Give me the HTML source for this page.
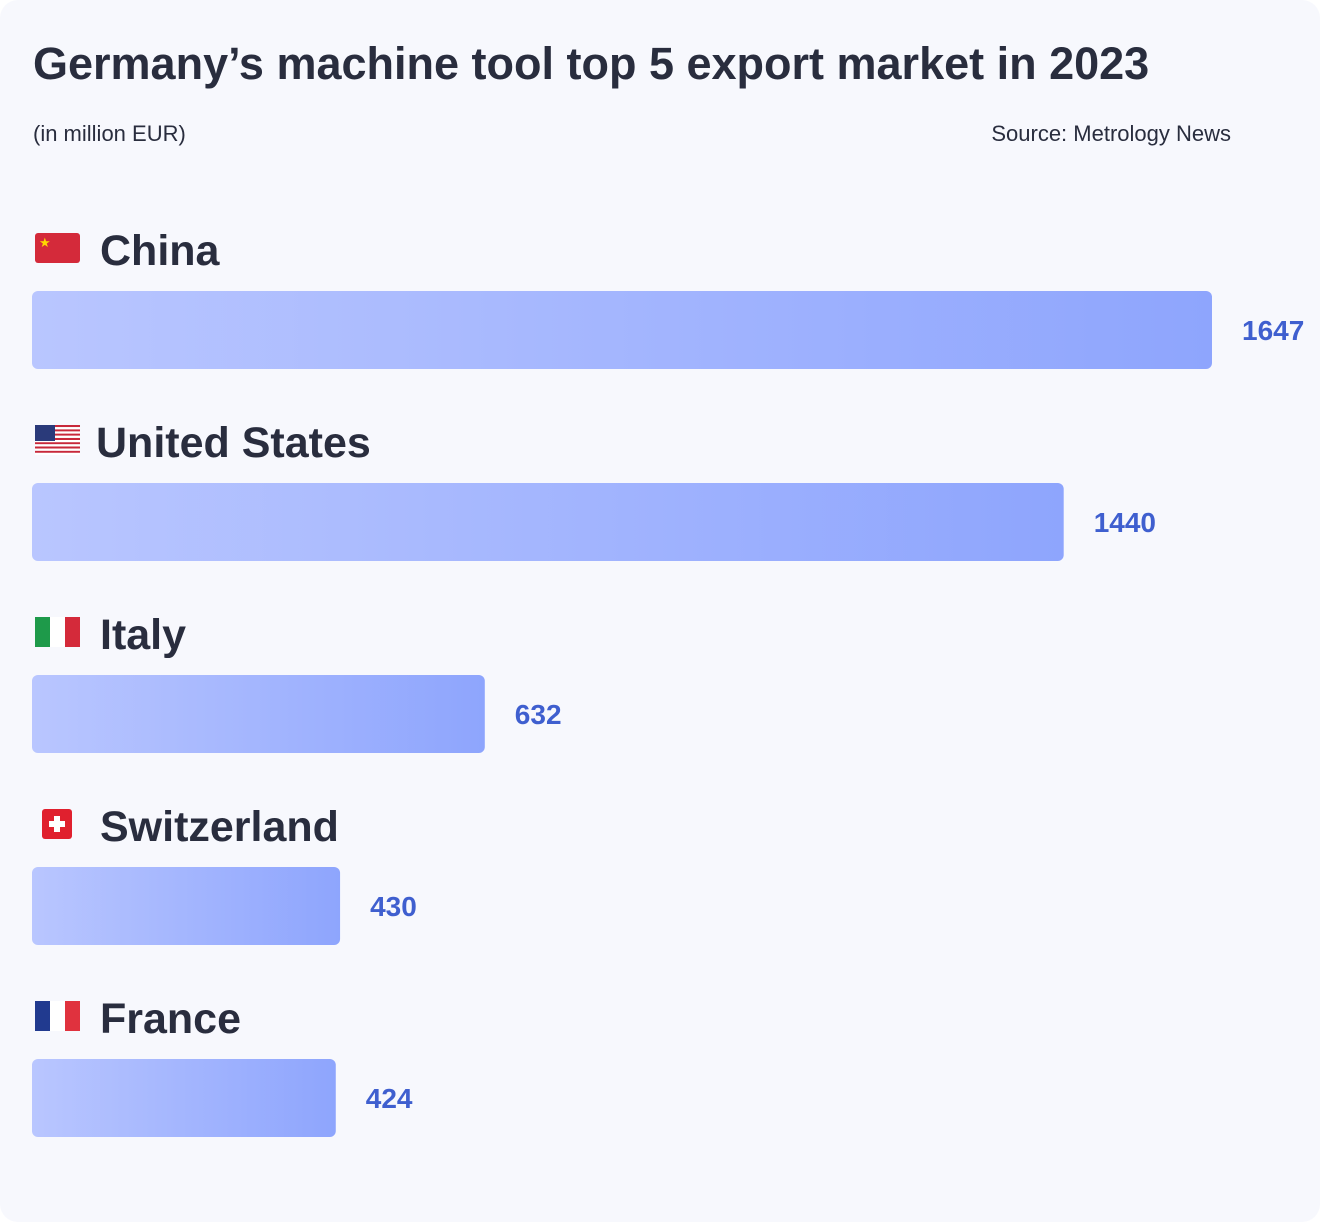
<!DOCTYPE html>
<html><head><meta charset="utf-8"><style>
body{margin:0;background:#fff;}
svg{display:block;font-family:"Liberation Sans",sans-serif;}
</style></head><body>
<svg id="chart" width="1320" height="1222" viewBox="0 0 1320 1222" xmlns="http://www.w3.org/2000/svg">
<defs>
<linearGradient id="bg" x1="0" x2="1" y1="0" y2="0"><stop offset="0" stop-color="#b9c6ff"/><stop offset="1" stop-color="#8ea5fd"/></linearGradient>
</defs>
<rect x="0" y="0" width="1320" height="1222" rx="18" fill="#f7f8fd"/>
<text x="33" y="79" font-size="45" font-weight="bold" fill="#292d3e">Germany’s machine tool top 5 export market in 2023</text>
<text x="33" y="141" font-size="22" fill="#292d3e">(in million EUR)</text>
<text x="1231" y="141" font-size="22" fill="#292d3e" text-anchor="end">Source: Metrology News</text>
<g id="bars"></g>
</svg>
<script>
const categories=["China","United States","Italy","Switzerland","France"];
const values=[1647,1440,632,430,424];
const flagKeys=["cn","us","it","ch","fr"];
const svg=document.getElementById('bars');
const NS="http://www.w3.org/2000/svg";
const x0=32, scale=1180/1647;
function xs(v){return v*scale;}
function mk(t,a){const e=document.createElementNS(NS,t);for(const k in a)e.setAttribute(k,a[k]);return e;}
function flag(k,x,y){
  const g=mk('g',{});
  const w=45,h=30;
  if(k==='cn'){g.appendChild(mk('rect',{x,y,width:w,height:h,rx:3,fill:'#d42a3a'}));g.appendChild(mk('text',{x:x+4,y:y+14,'font-size':13,fill:'#ffd700'})).textContent='★';}
  if(k==='us'){for(let i=0;i<7;i++)g.appendChild(mk('rect',{x,y:y+i*h/7,width:w,height:h/14,fill:'#c8283a'}));for(let i=0;i<7;i++)g.appendChild(mk('rect',{x,y:y+i*h/7+h/14,width:w,height:h/14,fill:'#fff'}));g.appendChild(mk('rect',{x,y,width:20,height:16,fill:'#2a3a7a'}));}
  if(k==='it'){['#1e9a4a','#fff','#d42a3a'].forEach((c,i)=>g.appendChild(mk('rect',{x:x+i*15,y,width:15,height:h,fill:c})));}
  if(k==='fr'){['#213a8f','#fff','#e0323e'].forEach((c,i)=>g.appendChild(mk('rect',{x:x+i*15,y,width:15,height:h,fill:c})));}
  if(k==='ch'){g.appendChild(mk('rect',{x:x+7,y:y,width:30,height:30,rx:3,fill:'#e0202e'}));g.appendChild(mk('rect',{x:x+19,y:y+7,width:6,height:16,fill:'#fff'}));g.appendChild(mk('rect',{x:x+14,y:y+12,width:16,height:6,fill:'#fff'}));}
  return g;
}
categories.forEach((c,i)=>{
  const top=291+i*192;
  const f=flag(flagKeys[i],35,top-58);
  
  
  svg.appendChild(f);
  const lab=mk('text',{x:i===1?96:100,y:top-26,'font-size':43,'font-weight':'bold',fill:'#292d3e'});
  lab.textContent=c;
  
  
  svg.appendChild(lab);
  const r=mk('rect',{x:x0,y:top,width:xs(values[i]),height:78,rx:6,fill:'url(#bg)'});
  
  
  svg.appendChild(r);
  const v=mk('text',{x:x0+xs(values[i])+30,y:top+49,'font-size':28,'font-weight':'bold',fill:'#3f5fcf'});
  v.textContent=values[i];
  
  
  svg.appendChild(v);
});
</script>
</body></html>
